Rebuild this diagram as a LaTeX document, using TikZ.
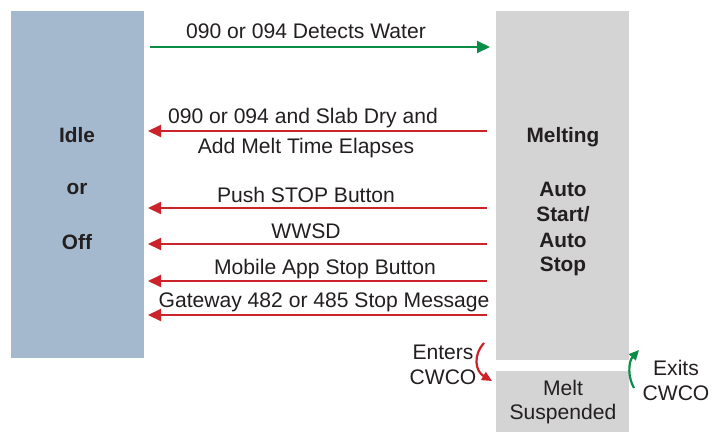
\documentclass[tikz,border=0pt]{standalone}
\usepackage{fontspec}
\setmainfont{Liberation Sans}
\usetikzlibrary{arrows.meta}
\definecolor{idlec}{HTML}{A4B9CD}
\definecolor{meltc}{HTML}{D4D4D5}
\definecolor{redc}{HTML}{CC2229}
\definecolor{greenc}{HTML}{0B8C47}
\definecolor{txtc}{HTML}{231F20}
\tikzset{
  statebox/.style={draw=none,inner sep=0pt,anchor=north west},
  lbl/.style={text=txtc,font=\fontsize{21.1}{25}\selectfont,inner sep=0pt},
  blbl/.style={text=txtc,font=\fontsize{20.8}{25}\selectfont\bfseries,inner sep=0pt},
  redarr/.style={draw=redc,line width=2pt,-{Triangle[length=13pt,width=12pt]}},
  greenarr/.style={draw=greenc,line width=2pt,-{Triangle[length=13pt,width=12pt]}},
  redcurve/.style={draw=redc,line width=2.2pt,-{Triangle[length=10pt,width=9pt]}},
  greencurve/.style={draw=greenc,line width=2.2pt,-{Triangle[length=10pt,width=9pt]}},
}
\begin{document}
\begin{tikzpicture}[x=1pt,y=-1pt]
\useasboundingbox (0,0) rectangle (722,433);
% boxes
\node[statebox,fill=idlec,minimum width=133pt,minimum height=347pt] (idle) at (11,11) {};
\node[statebox,fill=meltc,minimum width=133pt,minimum height=349pt] (melt) at (496,11) {};
\node[statebox,fill=meltc,minimum width=133pt,minimum height=61pt] (susp) at (496,371) {};
% box texts
\node[blbl] (t1) at (77,135) {Idle};
\node[blbl] (t2) at (77,189) {or};
\node[blbl] (t3) at (77,242) {Off};
\node[blbl] (m1) at (563,137) {Melting};
\node[blbl] (m2) at (563,189) {Auto};
\node[blbl] (m3) at (563,214) {Start/};
\node[blbl] (m4) at (563,240) {Auto};
\node[blbl] (m5) at (563,266) {Stop};
\node[lbl] (s1) at (563,388) {Melt};
\node[lbl] (s2) at (563,414) {Suspended};
% anchor coordinates
\coordinate (g1) at (150,47);  \coordinate (g2) at (490,47);
\coordinate (r1a) at (487,131); \coordinate (r1b) at (148,131);
\coordinate (r2a) at (487,208); \coordinate (r2b) at (148,208);
\coordinate (r3a) at (487,244); \coordinate (r3b) at (148,244);
\coordinate (r4a) at (487,281); \coordinate (r4b) at (148,281);
\coordinate (r5a) at (487,315); \coordinate (r5b) at (148,315);
% arrows
\draw[greenarr] (g1) -- (g2);
\draw[redarr] (r1a) -- (r1b);
\draw[redarr] (r2a) -- (r2b);
\draw[redarr] (r3a) -- (r3b);
\draw[redarr] (r4a) -- (r4b);
\draw[redarr] (r5a) -- (r5b);
% labels
\node[lbl] (l0) at (306,31) {090 or 094 Detects Water};
\node[lbl] (l1) at (303,118) {090 or 094 and Slab Dry and};
\node[lbl] (l1b) at (306,148) {Add Melt Time Elapses};
\node[lbl] (l2) at (306,195) {Push STOP Button};
\node[lbl] (l3) at (306,231) {WWSD};
\node[lbl] (l4) at (325,269) {Mobile App Stop Button};
\node[lbl] (l5) at (324,302) {Gateway 482 or 485 Stop Message};
% CWCO
\node[lbl] (en1) at (443,352) {Enters};
\node[lbl] (en2) at (443,377) {CWCO};
\node[lbl] (ex1) at (676,368) {Exits};
\node[lbl] (ex2) at (676,393) {CWCO};
\coordinate (ea) at (484,343); \coordinate (eb) at (492,381);
\coordinate (xa) at (634,388); \coordinate (xb) at (639,350);
\draw[redcurve] (ea) .. controls (473,355) and (475,371) .. (eb);
\draw[greencurve] (xa) .. controls (628,378) and (628,362) .. (xb);
\end{tikzpicture}
\end{document}
